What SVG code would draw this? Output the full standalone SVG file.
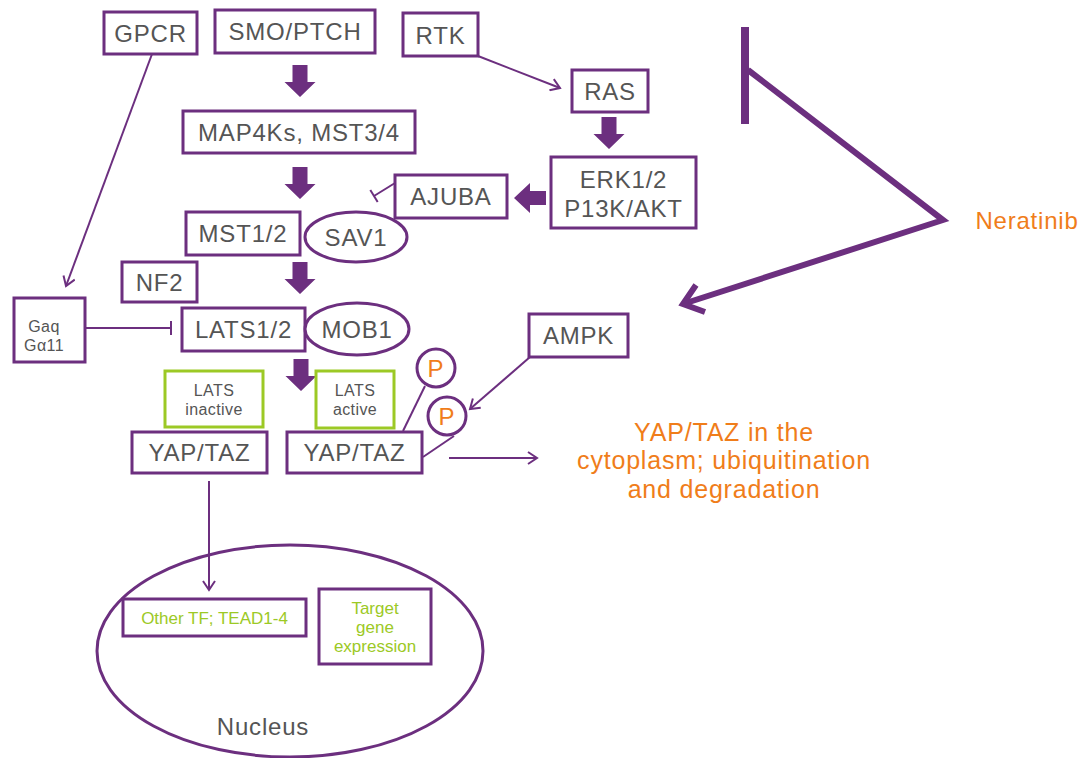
<svg xmlns="http://www.w3.org/2000/svg" width="1089" height="758" viewBox="0 0 1089 758">
<style>
.b{fill:#fff;stroke:#6c2f7f;stroke-width:3}
.n{fill:none;stroke:#6c2f7f;stroke-width:3}
.g{fill:#fff;stroke:#9cc925;stroke-width:3}
.t{font-family:"Liberation Sans",Arial,sans-serif;fill:#555;font-size:24px;letter-spacing:0.8px;text-anchor:middle}
.s{font-size:16px;letter-spacing:0.4px}
.gs{font-size:17px;letter-spacing:0}
.o{fill:#f07d1a}
.ot{font-size:25px;letter-spacing:0.8px}
.gt{fill:#9cc925}
.c{fill:none;stroke:#6c2f7f;stroke-width:2}
.fat{fill:#6c2f7f}
</style>
<defs>
<marker id="a" markerWidth="14" markerHeight="14" refX="11" refY="7" orient="auto" markerUnits="userSpaceOnUse">
<path d="M2,1 L11,7 L2,13" fill="none" stroke="#6c2f7f" stroke-width="2"/>
</marker>
<marker id="tee" markerWidth="4" markerHeight="16" refX="2" refY="8" orient="auto" markerUnits="userSpaceOnUse">
<path d="M2,1 V15" stroke="#6c2f7f" stroke-width="2"/>
</marker>
<path id="down" d="M-7.5,0 H7.5 V17 H15.5 L0,32 L-15.5,17 H-7.5 Z"/>
</defs>

<g id="nucleus"><ellipse class="n" cx="290" cy="651" rx="193" ry="106"/><text class="t" x="263" y="735">Nucleus</text></g>

<g id="connectors">
<line class="c" x1="152" y1="54" x2="66" y2="286" marker-end="url(#a)"/>
<line class="c" x1="478" y1="56" x2="560" y2="88" marker-end="url(#a)"/>
<line class="c" x1="395" y1="183" x2="374" y2="196" marker-end="url(#tee)"/>
<line class="c" x1="85" y1="328" x2="171" y2="328" marker-end="url(#tee)"/>
<line class="c" x1="403" y1="431" x2="425" y2="386"/>
<line class="c" x1="423" y1="457" x2="454" y2="436"/>
<line class="c" x1="530" y1="357" x2="470" y2="409" marker-end="url(#a)"/>
<line class="c" x1="449" y1="458" x2="537" y2="458" marker-end="url(#a)"/>
<line class="c" x1="209" y1="481" x2="209" y2="590" marker-end="url(#a)"/>
<use href="#down" class="fat" x="300" y="65"/>
<use href="#down" class="fat" x="609" y="117"/>
<use href="#down" class="fat" x="300" y="167"/>
<use href="#down" class="fat" x="300" y="262"/>
<use href="#down" class="fat" x="301" y="359"/>
<path class="fat" d="M546,191 V205 H530 V213 L514,198 L530,183 V191 Z"/>
<path d="M745,27 V124" stroke="#6c2f7f" stroke-width="8" fill="none"/>
<path d="M748,70 L943,220 L686,303" stroke="#6c2f7f" stroke-width="6" fill="none" stroke-linejoin="miter"/>
<path d="M696,285 L683,304 L705,312" stroke="#6c2f7f" stroke-width="6" fill="none"/>
</g>

<g id="gpcr"><rect class="b" x="104" y="12" width="93" height="42"/><text class="t" x="150.5" y="42">GPCR</text></g>
<g id="smo"><rect class="b" x="215" y="10" width="160" height="43"/><text class="t" x="295" y="40">SMO/PTCH</text></g>
<g id="rtk"><rect class="b" x="403" y="13" width="75" height="43"/><text class="t" x="440.5" y="44">RTK</text></g>
<g id="map4k"><rect class="b" x="183" y="111" width="232" height="42"/><text class="t" x="299" y="141">MAP4Ks, MST3/4</text></g>
<g id="ras"><rect class="b" x="572" y="70" width="76" height="42"/><text class="t" x="610" y="100">RAS</text></g>
<g id="erk"><rect class="b" x="551" y="157" width="145" height="71"/><text class="t" x="623.5" y="188">ERK1/2</text><text class="t" x="623.5" y="217">P13K/AKT</text></g>
<g id="ajuba"><rect class="b" x="395" y="175" width="112" height="43"/><text class="t" x="451" y="205">AJUBA</text></g>
<g id="mst12"><rect class="b" x="186" y="212" width="114" height="43"/><text class="t" x="243" y="242">MST1/2</text></g>
<g id="sav1"><ellipse class="b" cx="356" cy="237" rx="51" ry="25"/><text class="t" x="356" y="246">SAV1</text></g>
<g id="nf2"><rect class="b" x="122" y="262" width="75" height="40"/><text class="t" x="159.5" y="291">NF2</text></g>
<g id="gaq"><rect class="b" x="14" y="298" width="71" height="64"/><text class="t s" x="44" y="332">Gaq</text><text class="t s" x="44" y="351">Gα11</text></g>
<g id="lats"><rect class="b" x="182" y="308" width="123" height="43"/><text class="t" x="243.5" y="338">LATS1/2</text></g>
<g id="mob1"><ellipse class="b" cx="357" cy="329" rx="52" ry="26"/><text class="t" x="357" y="338">MOB1</text></g>
<g id="lats-inactive"><rect class="g" x="165" y="371" width="98" height="56"/><text class="t s" x="214" y="396">LATS</text><text class="t s" x="214" y="415">inactive</text></g>
<g id="lats-active"><rect class="g" x="316" y="371" width="78" height="57"/><text class="t s" x="355" y="396">LATS</text><text class="t s" x="355" y="415">active</text></g>
<g id="yap-left"><rect class="b" x="132" y="432" width="135" height="41"/><text class="t" x="199.5" y="461">YAP/TAZ</text></g>
<g id="yap-right"><rect class="b" x="287" y="432" width="135" height="41"/><text class="t" x="354.5" y="461">YAP/TAZ</text></g>
<g id="p1"><circle class="b" cx="436" cy="368" r="19"/><text class="t o" x="436" y="377">P</text></g>
<g id="p2"><circle class="b" cx="447" cy="416" r="19"/><text class="t o" x="447" y="425">P</text></g>
<g id="ampk"><rect class="b" x="529" y="314" width="99" height="43"/><text class="t" x="578.5" y="344">AMPK</text></g>
<g id="cyto"><text class="t o ot" x="724" y="441">YAP/TAZ in the</text><text class="t o ot" x="724" y="469">cytoplasm; ubiquitination</text><text class="t o ot" x="724" y="498">and degradation</text></g>
<g id="neratinib"><text class="t o" x="1027" y="229">Neratinib</text></g>
<g id="tead"><rect class="b" x="123" y="599" width="183" height="37"/><text class="t gs gt" x="214.5" y="624">Other TF; TEAD1-4</text></g>
<g id="target"><rect class="b" x="319" y="589" width="112" height="75"/><text class="t gs gt" x="375" y="614">Target</text><text class="t gs gt" x="375" y="633">gene</text><text class="t gs gt" x="375" y="652">expression</text></g>
</svg>
